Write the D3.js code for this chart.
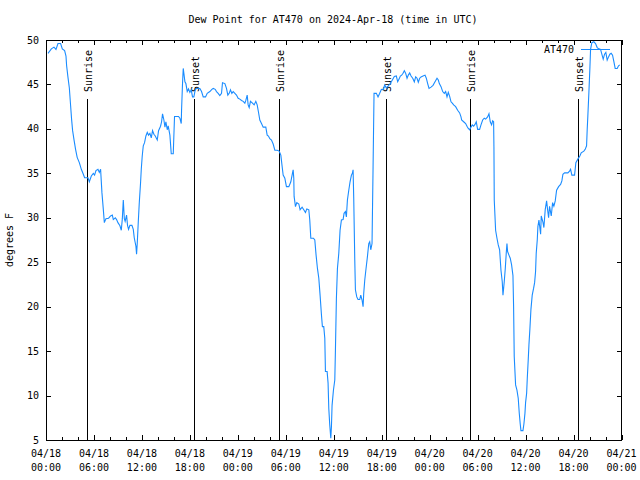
<!DOCTYPE html>
<html><head><meta charset="utf-8">
<script src="https://cdn.jsdelivr.net/npm/d3@7"></script>
<style>
body{margin:0;background:#fff;}
svg{display:block;}
text{font-family:"DejaVu Sans Mono",monospace;font-size:10px;fill:#000;}
</style></head>
<body><svg id="chart" width="640" height="480"></svg>
<script>
const chartTitle = "Dew Point for AT470 on 2024-Apr-18 (time in UTC)";
const yAxisLabel = "degrees F";
const seriesName = "AT470";
// hours since 2024-04-18 00:00 UTC
const hours = [0.25,0.67,1.0,1.25,1.5,1.83,2.04,2.33,2.5,2.58,2.75,2.92,3.08,3.2,3.33,3.5,3.7,3.9,4.17,4.42,4.67,4.83,5.25,5.42,5.67,5.92,6.08,6.25,6.5,6.67,6.83,7.0,7.17,7.3,7.5,7.83,8.08,8.3,8.42,8.67,8.83,9.0,9.25,9.42,9.55,9.67,9.8,9.9,10.08,10.2,10.33,10.5,10.75,10.92,11.04,11.25,11.33,11.42,11.54,11.67,11.83,11.92,12.04,12.17,12.33,12.5,12.67,12.83,13.0,13.17,13.33,13.5,13.67,13.92,14.08,14.33,14.46,14.58,14.75,14.88,15.0,15.17,15.29,15.5,15.67,15.92,16.08,16.58,16.75,16.92,16.96,17.08,17.17,17.25,17.38,17.5,17.67,17.83,18.0,18.17,18.33,18.5,18.67,18.83,19.25,19.46,19.67,19.96,20.17,20.5,20.75,20.92,21.17,21.33,21.54,21.75,21.96,22.08,22.38,22.58,22.75,22.92,23.08,23.25,23.42,23.63,23.83,24.04,24.25,24.46,24.67,24.88,25.0,25.17,25.29,25.42,25.58,25.83,26.04,26.25,26.42,26.58,26.75,26.96,27.17,27.5,27.67,27.83,28.0,28.21,28.42,28.63,28.92,29.17,29.38,29.54,29.67,29.88,30.08,30.38,30.63,30.79,30.92,31.0,31.04,31.21,31.38,31.63,31.79,32.04,32.25,32.46,32.63,32.88,33.0,33.13,33.46,33.63,33.79,33.96,34.13,34.29,34.46,34.58,34.75,34.88,34.96,35.17,35.29,35.38,35.5,35.63,35.71,35.79,35.96,36.13,36.21,36.33,36.46,36.63,36.79,36.96,37.17,37.29,37.46,37.58,37.71,37.88,38.04,38.21,38.33,38.42,38.5,38.63,38.71,38.88,39.04,39.25,39.38,39.54,39.67,39.75,39.88,40.04,40.21,40.38,40.5,40.63,40.79,40.92,41.04,41.33,41.54,41.75,41.96,42.17,42.38,42.58,42.79,43.08,43.33,43.58,43.83,44.0,44.17,44.33,44.5,44.67,44.83,45.0,45.17,45.33,45.5,45.67,45.88,46.08,46.25,46.42,46.58,46.75,46.92,47.17,47.42,47.58,47.75,47.92,48.17,48.42,48.67,48.92,49.08,49.21,49.42,49.63,49.83,50.0,50.17,50.33,50.5,50.67,50.83,51.0,51.25,51.5,51.75,51.92,52.0,52.25,52.5,52.67,52.83,53.0,53.17,53.33,53.5,53.67,53.83,54.0,54.25,54.42,54.63,54.83,55.0,55.25,55.42,55.58,55.75,55.88,56.0,56.04,56.08,56.25,56.42,56.58,56.75,56.92,57.08,57.17,57.33,57.46,57.58,57.67,57.75,57.92,58.08,58.25,58.42,58.5,58.58,58.75,58.92,59.08,59.21,59.33,59.42,59.67,59.79,59.92,60.0,60.13,60.21,60.33,60.42,60.54,60.67,60.83,61.0,61.13,61.25,61.33,61.46,61.54,61.67,61.88,61.96,62.17,62.29,62.46,62.63,62.75,62.88,63.0,63.21,63.38,63.54,63.71,63.88,64.13,64.38,64.54,64.67,64.88,65.29,65.5,65.63,65.79,66.13,66.29,66.54,66.79,66.96,67.29,67.46,67.63,67.71,67.79,67.92,68.04,68.13,68.29,68.54,68.75,68.96,69.17,69.38,69.54,69.71,69.88,70.04,70.21,70.38,70.54,70.71,70.88,71.04,71.21,71.46,71.63,71.79];
const dewPoint = [48.5,49.0,49.2,48.95,49.6,49.6,49.0,48.8,48.2,47.1,45.8,44.6,42.6,41.1,39.8,38.8,37.7,36.8,36.2,35.45,34.9,34.5,34.5,34.05,34.7,35.0,34.8,35.3,35.45,35.1,35.45,32.8,30.95,29.45,29.9,29.95,30.2,30.3,29.8,30.0,29.8,29.45,29.1,28.6,29.9,32.0,29.9,29.6,30.3,29.15,28.7,29.15,29.15,28.7,27.75,26.8,25.9,27.2,29.45,31.7,33.95,35.45,36.95,38.1,38.45,39.2,39.6,39.3,39.5,39.0,39.8,39.4,39.2,38.75,39.8,40.3,40.8,41.7,41.0,40.2,40.8,39.9,40.35,39.3,37.2,37.2,41.4,41.4,41.2,40.6,42.1,45.1,46.8,46.25,45.3,45.1,44.2,44.5,44.1,44.4,43.6,43.6,44.4,44.55,44.55,44.2,43.6,43.6,44.0,44.2,44.45,44.55,44.45,44.2,44.0,43.75,44.0,45.2,45.1,44.55,43.8,44.0,44.4,44.0,44.2,44.0,43.8,43.45,43.35,43.2,43.1,42.9,43.2,43.8,42.7,42.4,43.1,42.9,42.7,43.1,42.7,41.9,41.0,40.6,40.2,40.2,39.3,39.2,38.9,38.75,38.3,37.6,37.6,37.5,37.05,35.8,34.8,34.45,33.5,33.5,34.05,34.8,35.4,34.45,32.4,31.25,31.7,31.55,30.9,31.2,30.9,30.6,31.0,30.9,29.75,27.7,27.7,27.5,25.8,24.3,23.2,21.3,19.1,17.75,17.75,16.45,12.7,12.7,11.4,8.55,6.7,5.2,6.5,8.9,10.6,11.75,15.1,20.9,24.3,26.0,28.6,29.75,29.8,30.5,30.7,30.1,32.0,33.1,34.05,34.8,35.0,35.4,32.2,25.25,21.9,21.1,20.8,20.8,21.3,20.75,20.0,21.5,23.0,24.3,25.6,27.1,27.3,26.4,27.1,35.75,44.0,44.0,43.6,44.0,44.45,44.4,44.95,44.6,44.8,45.1,45.5,45.9,45.95,45.3,45.6,45.95,46.05,46.25,46.55,46.25,45.7,46.05,46.3,45.95,45.7,45.3,45.85,45.7,45.25,45.7,45.85,45.95,46.05,45.7,45.1,44.55,44.7,44.9,45.3,45.7,45.5,45.1,44.75,44.2,44.0,44.2,43.6,44.1,43.65,43.05,42.9,42.7,42.5,42.1,41.8,41.35,41.0,40.8,40.6,40.3,40.05,39.9,40.2,40.45,40.3,40.5,40.8,39.95,39.95,40.45,41.0,41.2,41.1,41.35,41.7,40.8,40.45,40.9,40.8,38.0,32.0,28.6,27.7,26.95,26.4,24.1,22.8,21.3,22.8,24.3,26.0,27.1,26.2,25.8,25.45,24.7,23.5,20.0,14.4,11.2,10.6,9.7,8.0,6.8,6.05,6.05,6.8,8.0,9.2,10.25,11.9,14.0,15.7,17.5,19.7,21.3,22.05,22.7,23.95,26.0,27.5,29.0,29.75,28.15,30.2,29.5,28.9,30.95,31.9,30.95,30.0,31.3,30.2,31.7,31.3,31.9,33.1,33.5,33.75,34.15,34.9,35.05,35.05,35.25,35.45,34.8,34.8,36.2,36.6,36.95,37.3,37.5,37.7,38.1,39.95,41.45,44.1,46.7,48.95,49.7,49.8,49.6,49.15,49.0,48.95,48.4,47.85,48.4,48.6,47.75,48.1,48.4,48.5,48.3,47.6,46.8,46.8,47.1,47.2];
const sunLabels = ["Sunrise","Sunset","Sunrise","Sunset","Sunrise","Sunset"];
const sunHours = [5.17,18.53,29.2,42.56,53.1,66.5];
const xTickHours = [0,6,12,18,24,30,36,42,48,54,60,66,72];
const xTickDates = ["04/18","04/18","04/18","04/18","04/19","04/19","04/19","04/19","04/20","04/20","04/20","04/20","04/21"];
const xTickTimes = ["00:00","06:00","12:00","18:00","00:00","06:00","12:00","18:00","00:00","06:00","12:00","18:00","00:00"];
const yTicks = [5,10,15,20,25,30,35,40,45,50];

const svg = d3.select("#chart");
const L = 46, R = 621.5, T = 40, B = 440;
const x = d3.scaleLinear().domain([0,72]).range([L,R]);
const y = d3.scaleLinear().domain([5,50]).range([B,T]);
const lineColor = "#1a8cff";

// title
svg.append("text").attr("x",333).attr("y",23).attr("text-anchor","middle").text(chartTitle);

// y axis label
svg.append("text").attr("transform","translate(13,240) rotate(-90)").attr("text-anchor","middle").text(yAxisLabel);

const minorHours = d3.range(0,73,2).filter(h => h%6!==0);

function axisG(axisGen, tx, ty){
  const g = svg.append("g").attr("transform",`translate(${tx},${ty})`).call(axisGen);
  g.select(".domain").remove();
  g.selectAll("line").attr("stroke","#000").attr("shape-rendering","crispEdges");
  g.selectAll("text").remove();
  return g;
}
// bottom / top major + minor ticks (inward)
axisG(d3.axisBottom(x).tickValues(xTickHours).tickSizeInner(-5).tickSizeOuter(0), 0, B);
axisG(d3.axisBottom(x).tickValues(minorHours).tickSizeInner(-3).tickSizeOuter(0), 0, B);
axisG(d3.axisTop(x).tickValues(xTickHours).tickSizeInner(-5).tickSizeOuter(0), 0, T);
axisG(d3.axisTop(x).tickValues(minorHours).tickSizeInner(-3).tickSizeOuter(0), 0, T);
// left / right ticks
axisG(d3.axisLeft(y).tickValues(yTicks).tickSizeInner(-5).tickSizeOuter(0), L, 0);
axisG(d3.axisRight(y).tickValues(yTicks).tickSizeInner(-5).tickSizeOuter(0), R, 0);

// y tick labels
svg.append("g").selectAll("text").data(yTicks).join("text")
  .attr("x",39).attr("y",d=>y(d)).attr("dy","0.35em").attr("text-anchor","end").text(d=>d);

// x tick labels (two lines)
const xl = svg.append("g").selectAll("text").data(xTickHours).join("text")
  .attr("text-anchor","middle");
xl.append("tspan").attr("x",d=>x(d)).attr("y",457).text((d,i)=>xTickDates[i]);
xl.append("tspan").attr("x",d=>x(d)).attr("y",471).text((d,i)=>xTickTimes[i]);

// sunrise / sunset markers
const sg = svg.append("g");
sunHours.forEach((h,i)=>{
  const px = Math.round(x(h))+0.5;
  sg.append("line").attr("x1",px).attr("x2",px).attr("y1",99).attr("y2",B)
    .attr("stroke","#000").attr("stroke-width",1);
  sg.append("text").attr("transform",`translate(${px+1},92) rotate(-90)`)
    .attr("dy","0.35em").attr("text-anchor","start").text(sunLabels[i]);
});

// data line
const pts = hours.map((h,i)=>[h,dewPoint[i]]);
svg.append("path").datum(pts)
  .attr("fill","none").attr("stroke",lineColor).attr("stroke-width",1.1)
  .attr("d", d3.line().x(d=>x(d[0])).y(d=>y(d[1])).curve(d3.curveLinear));

// border
svg.append("rect").attr("x",L+0.5).attr("y",T+0.5).attr("width",R-L-0.5).attr("height",B-T)
  .attr("fill","none").attr("stroke","#000").attr("shape-rendering","crispEdges");

// legend
svg.append("text").attr("x",574).attr("y",49).attr("dy","0.35em").attr("text-anchor","end").text(seriesName);
svg.append("line").attr("x1",581).attr("x2",610).attr("y1",49.5).attr("y2",49.5)
  .attr("stroke",lineColor).attr("stroke-width",1);
</script></body></html>
